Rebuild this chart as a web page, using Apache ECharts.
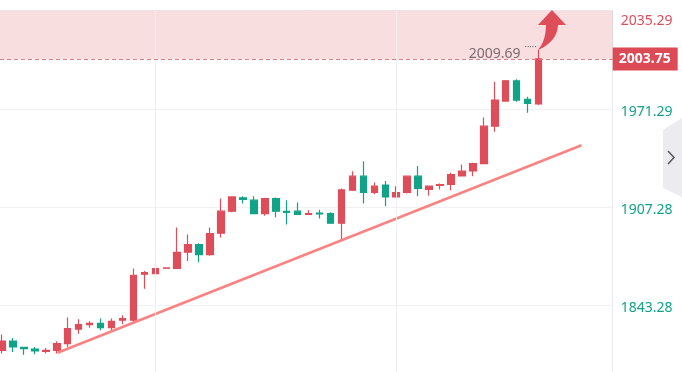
<!DOCTYPE html>
<html><head><meta charset="utf-8">
<script src="https://cdn.jsdelivr.net/npm/echarts@6/dist/echarts.min.js"></script>
<style>html,body{margin:0;padding:0;background:#fff}#c{width:682px;height:372px}</style>
</head><body><div id="c"></div>
<script>
// candle index (position on the x scale)
const categories = [0,1,2,3,4,5,6,7,8,9,10,11,12,13,14,15,16,17,18,19,20,21,22,23,24,25,26,27,28,29,30,31,32,33,34,35,36,37,38,39,40,41,42,43,44,45,46,47,48,49];
const opens  = [1814.0,1820.1,1816.0,1814.9,1813.4,1814.0,1818.4,1827.9,1830.8,1831.6,1828.8,1833.6,1833.6,1863.6,1864.0,1867.5,1867.3,1877.9,1882.8,1876.3,1890.3,1904.6,1913.3,1911.8,1903.1,1912.9,1904.5,1904.6,1902.5,1903.3,1903.1,1896.8,1918.3,1927.4,1916.8,1921.6,1913.9,1916.8,1927.4,1918.8,1921.4,1922.0,1927.6,1930.8,1935.6,1960.0,1976.3,1989.5,1977.4,1974.4];
const closes = [1820.1,1816.2,1815.1,1813.6,1814.0,1818.4,1828.2,1830.8,1831.6,1828.8,1832.9,1834.7,1862.9,1864.7,1867.2,1867.7,1877.8,1882.8,1876.4,1890.1,1904.6,1913.9,1912.3,1903.1,1912.9,1904.6,1903.8,1902.5,1903.0,1902.8,1896.8,1918.5,1927.4,1916.8,1920.9,1913.9,1916.8,1927.4,1919.4,1920.9,1922.0,1928.5,1930.7,1935.6,1960.0,1977.0,1989.5,1977.0,1974.8,2003.75];
const lows   = [1811.9,1812.9,1811.2,1811.4,1811.9,1811.9,1816.2,1824.9,1828.8,1827.1,1827.1,1831.0,1831.6,1854.2,1863.4,1867.5,1867.3,1872.2,1871.4,1875.6,1887.5,1904.0,1909.6,1903.1,1901.6,1900.7,1896.0,1902.5,1902.5,1899.9,1896.8,1885.1,1917.8,1909.6,1915.7,1907.9,1913.3,1916.2,1914.4,1914.6,1918.8,1918.3,1927.6,1927.4,1935.3,1956.3,1975.9,1975.9,1968.7,1973.7];
const highs  = [1824.3,1822.1,1816.0,1816.2,1815.5,1819.9,1835.4,1834.2,1832.9,1834.7,1834.7,1836.8,1867.3,1865.7,1870.4,1867.7,1894.0,1889.4,1883.8,1894.0,1912.9,1914.4,1914.4,1914.4,1913.4,1913.6,1911.8,1910.3,1905.3,1905.6,1904.0,1919.4,1930.7,1937.2,1923.3,1924.2,1920.9,1927.6,1934.1,1921.2,1922.7,1929.6,1935.1,1936.1,1965.7,1988.9,1990.0,1990.5,1979.1,2009.69];
const yTickLabels = ['1843.28','1907.28','1971.29','2035.29'];
const lastPrice = 2003.75;
const highMark = 2009.69;
const trendLine = [[5.07, 1812.4], [52.92, 1947.6]];
const vGridAt = [14, 36];

const RED = '#de4d5a', GREEN = '#10a388';
const FONT = 'Noto Sans';
const candleData = categories.map((k, i) => [k, opens[i], closes[i], lows[i], highs[i]]);
const lastIdx = categories[categories.length - 1];

const chart = echarts.init(document.getElementById('c'), null, {renderer: 'canvas'});
chart.setOption({
  animation: false,
  backgroundColor: '#fff',
  grid: {left: 0, right: 69.3, top: 10.5, bottom: -31.7, outerBoundsMode: 'none', containLabel: false},
  xAxis: [{type: 'value', min: -0.183, max: 55.77, show: false}],
  yAxis: [
    {type: 'value', min: 1779.28, max: 2035.29, show: false},
    {type: 'value', min: 0, max: 4, interval: 1, position: 'right',
      axisLine: {show: true, lineStyle: {color: '#e9e9ef', width: 1}},
      axisTick: {show: false},
      splitLine: {show: true, lineStyle: {color: '#f1f1f4', width: 1}},
      axisLabel: {
        margin: 8, fontFamily: FONT, fontSize: 14,
        formatter: v => v < 1 ? '' : (v === 4 ? '{r|' + yTickLabels[v-1] + '}' : '{g|' + yTickLabels[v-1] + '}'),
        rich: {
          r: {color: RED, fontFamily: FONT, fontSize: 14, padding: [22, 0, 0, 0]},
          g: {color: GREEN, fontFamily: FONT, fontSize: 14, padding: [6, 0, 0, 0]}
        }
      }
    }
  ],
  graphic: [
    {type: 'polygon', shape: {points: [[663,130],[682,118],[682,197],[663,188]]}, style: {fill: '#ececf0'}, silent: true},
    {type: 'polyline', shape: {points: [[668,151],[674,157.5],[668,164]]}, style: {stroke: '#5b5b66', lineWidth: 1.6, fill: null}, silent: true}
  ],
  series: [
    {
      type: 'line', data: [], xAxisIndex: 0, yAxisIndex: 0, z: 1, silent: true,
      markArea: {silent: true, itemStyle: {color: 'rgba(220,74,85,0.18)'},
        data: [[{yAxis: lastPrice}, {yAxis: 2035.29}]]},
      markLine: {silent: true, symbol: 'none', animation: false,
        lineStyle: {color: '#f0f0f3', width: 1, type: 'solid'}, label: {show: false},
        data: vGridAt.map(x => ({xAxis: x}))}
    },
    {
      type: 'candlestick', xAxisIndex: 0, yAxisIndex: 0, z: 2,
      barWidth: 7,
      data: candleData,
      encode: {x: 0, y: [1, 2, 3, 4]},
      itemStyle: {color: RED, color0: GREEN, borderColor: RED, borderColor0: GREEN, borderWidth: 1.2},
      markLine: {silent: true, symbol: 'none', animation: false,
        data: [{yAxis: lastPrice,
          lineStyle: {color: '#e57a85', width: 1, type: [4, 3]},
          label: {show: true, position: 'end', distance: 0, formatter: lastPrice.toFixed(2),
            backgroundColor: '#dc4a55', color: '#fff', fontWeight: 'bold', fontFamily: FONT, fontSize: 14,
            padding: [4, 7, 4, 6], lineHeight: 15}}]},
      markPoint: {silent: true, animation: false,
        data: [
          {coord: [lastIdx, highMark], symbol: 'path://M14 0 L28 15 L20 15 C20 26 12 35 0 40 C6 33 8 24 8 15 L0 15 Z',
            symbolSize: [28, 40], symbolOffset: [13.4, -19.8], symbolKeepAspect: false,
            itemStyle: {color: RED}, label: {show: false}},
          {coord: [lastIdx, highMark], symbol: 'circle', symbolSize: 0,
            label: {show: true, position: 'left', distance: 2, offset: [0, 4],
              formatter: '{v|' + highMark.toFixed(2) + '}{d|·····}',
              rich: {
                v: {color: '#7d6a72', fontFamily: FONT, fontSize: 14},
                d: {color: '#666', fontFamily: FONT, fontSize: 9, padding: [0, 0, 12, 4]}
              }}}
        ]}
    },
    {
      type: 'line', xAxisIndex: 0, yAxisIndex: 0, z: 3, data: trendLine, symbol: 'none', silent: true,
      lineStyle: {color: '#f98383', width: 2.6}
    }
  ]
});
</script></body></html>
